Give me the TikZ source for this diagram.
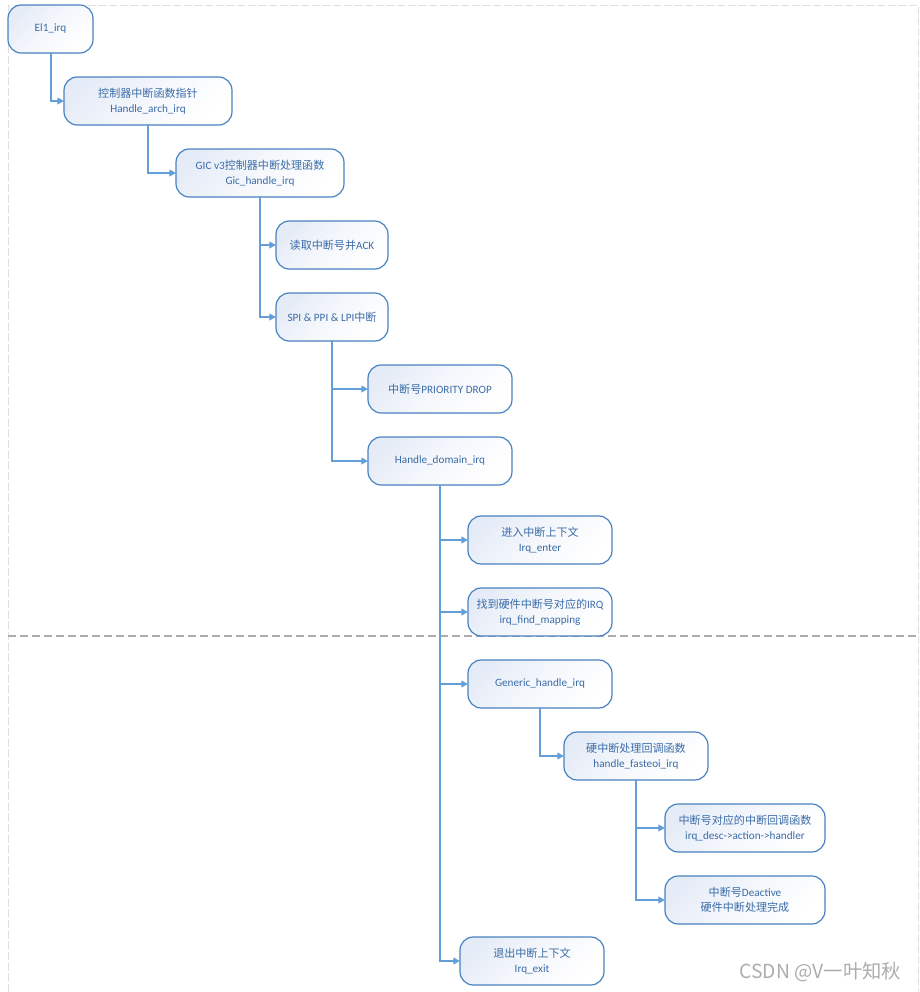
\documentclass[tikz,border=0pt]{standalone}
\usepackage{fontspec}
\setmainfont{Carlito}
\newfontfamily\cjk{Noto Sans CJK SC}
\usetikzlibrary{arrows.meta}
\definecolor{boxline}{RGB}{72,130,192}
\definecolor{boxtext}{RGB}{58,108,168}
\definecolor{shadecol}{RGB}{230,236,247}
\definecolor{conn}{RGB}{98,158,218}
\newcommand{\zh}[1]{{\cjk\fontsize{8.3}{11.5}\selectfont #1}}
\tikzset{
  box/.style={draw=boxline, line width=0.9pt, rounded corners=10pt,
    top color=shadecol, bottom color=white, middle color=white!60!shadecol, shading angle=45,
    minimum height=36pt, inner sep=0pt, outer sep=0pt, align=center,
    text=boxtext, font=\fontsize{8.4}{11.5}\selectfont},
  link/.style={draw=conn, line width=1.5pt, -{Triangle[length=5pt,width=5pt]}},
}
\begin{document}
\begin{tikzpicture}[x=0.75pt,y=-0.75pt]
\useasboundingbox (0,0) rectangle (920,992);
% frame
\draw[gray!25, line width=0.6pt, dash pattern=on 6pt off 2pt] (8,992) -- (8,5) -- (918,5) -- (918,992);
\draw[gray!65, line width=0.9pt, dash pattern=on 6pt off 3pt] (8,636) -- (918,636);

\node[box, minimum width=63.75pt] (n1) at (50.5,29) {El1\_irq};
\node[box, minimum width=126pt] (n2) at (148,101) {\zh{控制器中断函数指针}\\Handle\_arch\_irq};
\node[box, minimum width=126pt] (n3) at (260,173) {GIC v3\zh{控制器中断处理函数}\\Gic\_handle\_irq};
\node[box, minimum width=84pt] (n4) at (332,245) {\zh{读取中断号并}ACK};
\node[box, minimum width=84pt] (n5) at (332,317) {SPI \& PPI \& LPI\zh{中断}};
\node[box, minimum width=108pt] (n6) at (440,389) {\zh{中断号}PRIORITY DROP};
\node[box, minimum width=108pt] (n7) at (440,461) {Handle\_domain\_irq};
\node[box, minimum width=108pt] (n8) at (540,540) {\zh{进入中断上下文}\\Irq\_enter};
\node[box, minimum width=108pt] (n9) at (540,612) {\zh{找到硬件中断号对应的}IRQ\\irq\_find\_mapping};
\node[box, minimum width=108pt] (n10) at (540,684) {Generic\_handle\_irq};
\node[box, minimum width=108pt] (n11) at (636,756) {\zh{硬中断处理回调函数}\\handle\_fasteoi\_irq};
\node[box, minimum width=120pt] (n12) at (745,828) {\zh{中断号对应的中断回调函数}\\irq\_desc->action->handler};
\node[box, minimum width=120pt] (n13) at (745,900) {\zh{中断号}Deactive\\\zh{硬件中断处理完成}};
\node[box, minimum width=108pt] (n14) at (532,961) {\zh{退出中断上下文}\\Irq\_exit};

\node[text=gray!65, font=\cjk\fontsize{14.5}{16}\selectfont, anchor=east] (wm) at (906,972) {CSDN @V一叶知秋};

\draw[link] (n1.south) |- (n2.west);
\draw[link] (n2.south) |- (n3.west);
\draw[link] (n3.south) |- (n4.west);
\draw[link] (n3.south) |- (n5.west);
\draw[link] (n5.south) |- (n6.west);
\draw[link] (n5.south) |- (n7.west);
\draw[link] (n7.south) |- (n8.west);
\draw[link] (n7.south) |- (n9.west);
\draw[link] (n7.south) |- (n10.west);
\draw[link] (n7.south) |- (n14.west);
\draw[link] (n10.south) |- (n11.west);
\draw[link] (n11.south) |- (n12.west);
\draw[link] (n11.south) |- (n13.west);
\end{tikzpicture}
\end{document}
